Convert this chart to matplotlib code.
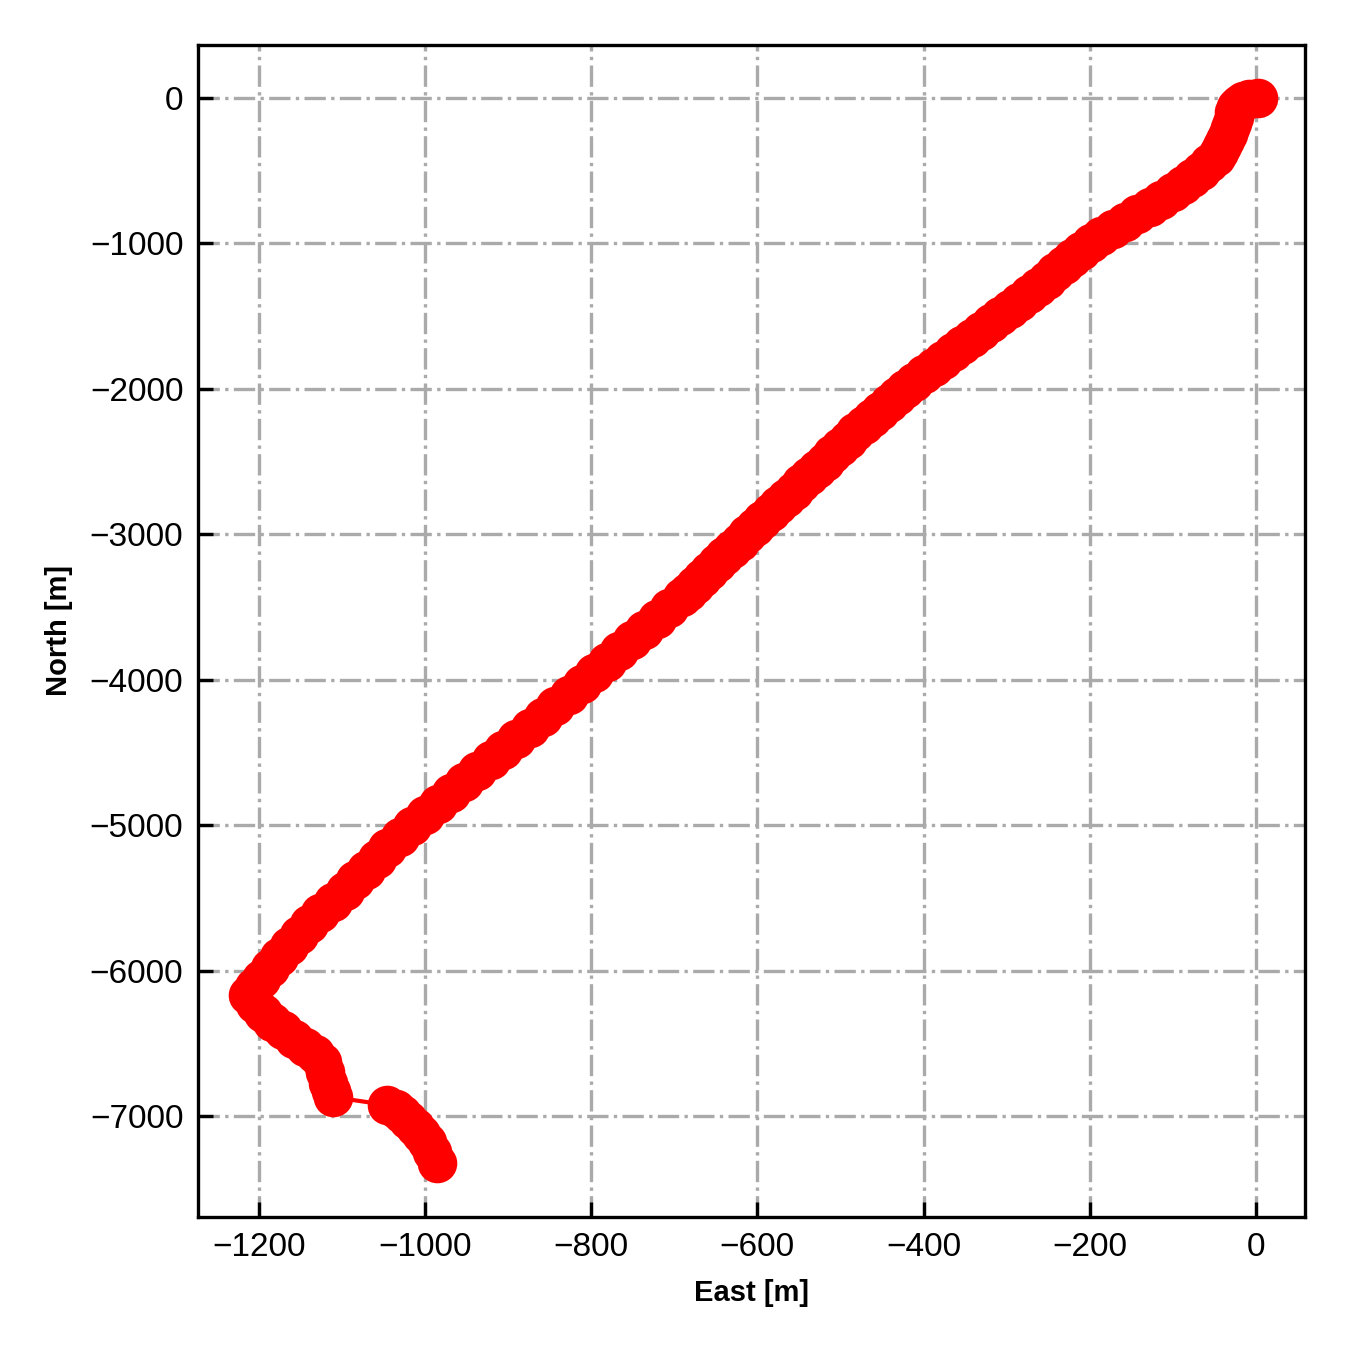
import matplotlib
matplotlib.use('Agg')
import matplotlib.pyplot as plt

plt.rcParams['font.family'] = ['Liberation Sans', 'DejaVu Sans']

# east / north track positions [m]
east = [2, -8, -16, -21, -24, -26, -27, -29, -31, -34, -37, -41, -44, -48,
        -56, -66, -77, -88, -100, -114, -128, -143, -158, -172, -186, -199,
        -210, -221, -231, -242, -252, -262, -273, -285, -296, -308, -319, -331,
        -342, -354, -365, -377, -388, -399, -411, -422, -432, -442, -452, -462,
        -472, -482, -491, -500, -510, -519, -528, -538, -547, -556, -566, -575,
        -584, -594, -603, -612, -621, -631, -640, -649, -658, -667, -675, -684,
        -691,
        -706, -721, -736, -751, -766, -781, -796, -811, -827, -843, -858, -874,
        -890, -906, -921, -937, -953, -969, -984, -1000, -1015, -1030, -1045,
        -1058, -1071, -1084, -1096, -1111, -1126, -1140, -1152, -1164, -1175,
        -1186, -1197, -1206, -1213,
        -1205, -1195, -1184, -1171, -1158, -1144, -1132, -1124, -1120, -1116,
        -1113, -1111,
        -1046, -1035, -1027, -1020, -1012, -1005, -998, -992, -986]
north = [0, -8, -20, -40, -65, -95, -130, -170, -210, -250, -290, -330, -370, -406,
         -450, -500, -550, -600, -650, -700, -750, -800, -850, -900, -950, -1000,
         -1050, -1100, -1150, -1200, -1250, -1300, -1350, -1400, -1450, -1500, -1550, -1600,
         -1650, -1700, -1750, -1800, -1850, -1900, -1950, -2000, -2050, -2100, -2150, -2200,
         -2250, -2300, -2350, -2400, -2450, -2500, -2550, -2600, -2650, -2700, -2750, -2800,
         -2850, -2900, -2950, -3000, -3050, -3100, -3150, -3200, -3250, -3300, -3350, -3400,
         -3431,
         -3505, -3580, -3655, -3730, -3805, -3880, -3955, -4030, -4105, -4180, -4255, -4330,
         -4405, -4480, -4555, -4630, -4705, -4780, -4855, -4930, -5005, -5080, -5155,
         -5230, -5305, -5380, -5455, -5530, -5605, -5680, -5755, -5830, -5905,
         -5980, -6055, -6115, -6170,
         -6230, -6290, -6350, -6410, -6470, -6525, -6575, -6630, -6700, -6770,
         -6830, -6869,
         -6924, -6950, -6985, -7030, -7075, -7125, -7180, -7250, -7323]

fig = plt.figure(figsize=(4.5, 4.5), dpi=300)
ax = fig.add_axes([198/1350, 1 - 1217/1350, (1305 - 198)/1350, (1217 - 45)/1350])

ax.plot(east, north, color='red', marker='o', markersize=8.5, linewidth=1)

ax.set_xlim(-1273, 59)
ax.set_ylim(-7694, 364)
ax.set_xticks([-1200, -1000, -800, -600, -400, -200, 0])
ax.set_yticks([0, -1000, -2000, -3000, -4000, -5000, -6000, -7000])
ax.tick_params(direction='in', labelsize=8, length=3.5, width=0.8)
ax.grid(True, color='#aaaaaa', linestyle='-.', linewidth=0.8)
ax.set_axisbelow(True)
ax.set_xlabel('East [m]', fontsize=7, fontweight='bold')
ax.set_ylabel('North [m]', fontsize=7, fontweight='bold')

fig.savefig('out.png', dpi=300)
